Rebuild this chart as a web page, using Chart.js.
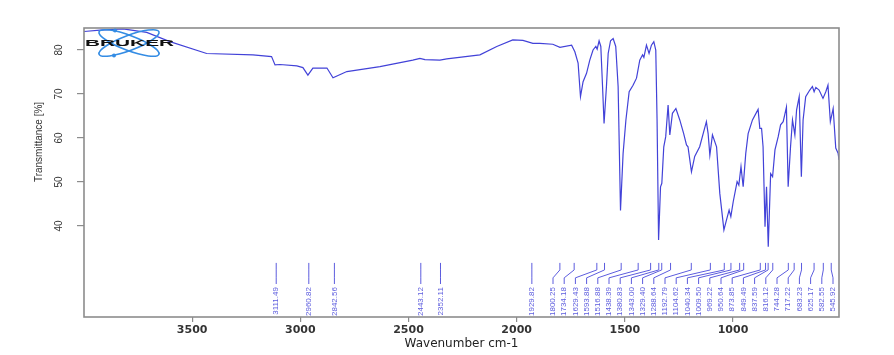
<!DOCTYPE html>
<html>
<head>
<meta charset="utf-8">
<script src="https://cdn.jsdelivr.net/npm/chart.js@4.4.1/dist/chart.umd.min.js"></script>
<style>
  html, body { margin: 0; padding: 0; background: #fff; }
  #wrap { width: 894px; height: 355px; }
</style>
</head>
<body>
<div id="wrap"><canvas id="ir" width="894" height="355"></canvas></div>
<script>
// spectrum (wavenumber cm-1 / transmittance %)
const wavenumbers = [4000, 3926, 3820, 3710, 3603, 3433, 3219, 3133, 3117, 3094,
  3016, 2988, 2965, 2942, 2877, 2849, 2785, 2632, 2480, 2447,
  2424, 2355, 2323, 2170, 2092, 2018, 1971, 1925, 1893, 1833,
  1800, 1746, 1731, 1716, 1705, 1693, 1677, 1662, 1647, 1634,
  1628, 1619, 1611, 1603, 1596, 1585, 1577, 1566, 1554, 1542,
  1531, 1520, 1508, 1495, 1480, 1462, 1446, 1431, 1418, 1412,
  1400, 1388, 1377, 1366, 1357, 1351, 1344, 1335, 1329, 1320,
  1311, 1300, 1292, 1280, 1264, 1246, 1228, 1215, 1208, 1192,
  1177, 1154, 1123, 1115, 1107, 1095, 1076, 1061, 1042, 1030,
  1018, 1010, 999, 981, 973, 963, 953, 941, 930, 910,
  884, 876, 868, 861, 852, 845, 837, 826, 817, 806,
  791, 780, 768, 753, 745, 734, 725, 714, 706, 694,
  684, 676, 664, 645, 633, 625, 617, 602, 584, 571,
  561, 550, 537, 525, 514, 510];
const transmittance = [84.2, 84.5, 84.8, 84.0, 81.9, 79.2, 78.9, 78.5, 76.6, 76.7,
  76.4, 76.0, 74.3, 75.9, 75.9, 73.7, 75.1, 76.2, 77.7, 78.1,
  77.8, 77.7, 78.0, 78.9, 80.8, 82.3, 82.2, 81.5, 81.5, 81.3,
  80.6, 81.1, 79.6, 77.0, 69.4, 72.8, 74.7, 77.7, 80.0, 80.8,
  80.2, 82.1, 80.8, 71.7, 63.3, 71.7, 79.2, 82.1, 82.6, 80.8,
  71.7, 43.5, 56.5, 64.1, 70.5, 72.0, 73.6, 77.7, 78.9, 78.3,
  81.1, 79.2, 81.1, 81.9, 80.0, 64.1, 36.8, 48.9, 49.7, 58.0,
  60.3, 67.5, 60.7, 65.6, 66.7, 64.1, 61.0, 58.4, 58.0, 52.3,
  55.8, 58.0, 63.7, 61.0, 56.1, 60.7, 58.0, 47.4, 39.1, 41.4,
  43.6, 42.1, 45.5, 50.1, 49.3, 53.5, 48.9, 56.5, 61.0, 64.1,
  66.5, 62.2, 62.2, 58.0, 39.8, 48.9, 35.3, 51.9, 51.2, 57.3,
  60.3, 63.0, 63.7, 67.0, 48.9, 58.0, 64.1, 60.7, 66.4, 69.4,
  51.2, 64.1, 69.4, 70.9, 71.7, 70.5, 71.5, 70.9, 69.0, 70.5,
  72.0, 63.7, 66.7, 57.7, 56.5, 55.0];

// picked peaks
const peakLabels = ["3111.49", "2960.82", "2842.56", "2443.12", "2352.11", "1929.82",
  "1800.25", "1734.18", "1629.43", "1593.88", "1516.88", "1438.39", "1380.83",
  "1343.00", "1329.40", "1288.64", "1192.79", "1104.62", "1040.34", "1009.50",
  "969.22", "950.64", "873.85", "849.49", "837.59", "816.12", "744.28", "717.22",
  "683.23", "625.17", "582.55", "545.92"];

const xTicks = [3500, 3000, 2500, 2000, 1500, 1000];
const yTicks = [40, 50, 60, 70, 80];

const LINE_BLUE = "rgb(66, 66, 216)";
const LABEL_BLUE = "rgb(92, 92, 222)";
const NARROW = '"Liberation Sans Narrow", "Liberation Sans", Arial, sans-serif';

// spread crowded peak labels so they don't overlap
function spreadLabels(xs, gap, lo, hi) {
  let groups = xs.map((x) => ({ items: [x] }));
  const start = (g) => {
    const mean = g.items.reduce((a, b) => a + b, 0) / g.items.length;
    const span = (g.items.length - 1) * gap;
    return Math.min(Math.max(mean - span / 2, lo), hi - span);
  };
  let merged = true;
  while (merged) {
    merged = false;
    for (let i = 0; i < groups.length - 1; i++) {
      const a = groups[i], b = groups[i + 1];
      if (start(a) + a.items.length * gap > start(b)) {
        groups.splice(i, 2, { items: a.items.concat(b.items) });
        merged = true;
        break;
      }
    }
  }
  const out = [];
  groups.forEach((g) => {
    const s = start(g);
    g.items.forEach((_, i) => out.push(s + i * gap));
  });
  return out;
}

const overlayPlugin = {
  id: "overlay",
  afterDatasetsDraw(chart) {
    const { ctx, chartArea: a, scales: { x, y } } = chart;

    // peak markers
    const px = peakLabels.map((p) => x.getPixelForValue(Number(p)));
    const lx = spreadLabels(px, 11.2, a.left + 8, a.right - 6);
    const yTop = y.getPixelForValue(31.6);
    const yBend1 = y.getPixelForValue(30.0);
    const yBend2 = y.getPixelForValue(28.2);
    const yEnd = y.getPixelForValue(26.8);
    const yText = y.getPixelForValue(26.1);
    ctx.save();
    ctx.strokeStyle = LABEL_BLUE;
    ctx.lineWidth = 1;
    ctx.fillStyle = LABEL_BLUE;
    ctx.font = "8px " + NARROW;
    px.forEach((p, i) => {
      ctx.beginPath();
      ctx.moveTo(p, yTop);
      ctx.lineTo(p, yBend1);
      ctx.lineTo(lx[i], yBend2);
      ctx.lineTo(lx[i], yEnd);
      ctx.stroke();
      ctx.save();
      ctx.translate(lx[i], yText);
      ctx.rotate(-Math.PI / 2);
      ctx.textAlign = "right";
      ctx.textBaseline = "middle";
      ctx.fillText(peakLabels[i], 0, 0);
      ctx.restore();
    });
    ctx.restore();

    // frame
    ctx.save();
    ctx.strokeStyle = "#8c8c8c";
    ctx.lineWidth = 1.6;
    ctx.strokeRect(a.left, a.top, a.right - a.left, a.bottom - a.top);
    ctx.restore();

    // y tick labels, rotated like the original
    ctx.save();
    ctx.font = "10px " + NARROW;
    ctx.fillStyle = "#333";
    ctx.textAlign = "center";
    ctx.textBaseline = "middle";
    y.ticks.forEach((t) => {
      ctx.save();
      ctx.translate(a.left - 25, y.getPixelForValue(t.value));
      ctx.rotate(-Math.PI / 2);
      ctx.fillText(String(t.value), 0, 0);
      ctx.restore();
    });
    ctx.restore();

    // y axis title (sits higher than the centre in the original)
    ctx.save();
    ctx.translate(39, 142);
    ctx.rotate(-Math.PI / 2);
    ctx.font = "10px " + NARROW;
    ctx.fillStyle = "#333";
    ctx.textAlign = "center";
    ctx.textBaseline = "middle";
    ctx.fillText("Transmittance [%]", 0, 0);
    ctx.restore();

    // Bruker logo
    const cx = a.left + 45, cy = a.top + 15;
    ctx.save();
    ctx.strokeStyle = "rgb(52, 140, 228)";
    ctx.fillStyle = "rgb(52, 140, 228)";
    ctx.lineWidth = 1.6;
    [0.36, -0.36].forEach((r) => {
      ctx.beginPath();
      ctx.ellipse(cx, cy, 32, 7.5, r, 0, Math.PI * 2);
      ctx.stroke();
    });
    [[-14, -12.5], [-15, 12.5]].forEach(([dx, dy]) => {
      ctx.beginPath();
      ctx.arc(cx + dx, cy + dy, 2, 0, Math.PI * 2);
      ctx.fill();
    });
    ctx.translate(a.left + 1, cy);
    ctx.scale(2.45, 1);
    ctx.font = "900 8.5px Arial, sans-serif";
    ctx.fillStyle = "#111";
    ctx.textBaseline = "middle";
    ctx.fillText("BRUKER", 0, 0.5);
    ctx.restore();
  }
};

new Chart(document.getElementById("ir"), {
  type: "line",
  data: {
    datasets: [{
      data: wavenumbers.map((w, i) => ({ x: w, y: transmittance[i] })),
      borderColor: LINE_BLUE,
      borderWidth: 1.2,
      pointRadius: 0,
      tension: 0,
      fill: false
    }]
  },
  options: {
    responsive: false,
    animation: false,
    devicePixelRatio: 1,
    layout: { padding: { top: 28, right: 55, left: 0, bottom: 0 } },
    plugins: { legend: { display: false }, tooltip: { enabled: false } },
    scales: {
      x: {
        type: "linear",
        reverse: true,
        min: 510,
        max: 4000,
        afterBuildTicks: (s) => { s.ticks = xTicks.map((v) => ({ value: v })); },
        afterFit: (s) => { s.height = 38; },
        border: { display: false },
        grid: { drawOnChartArea: false, drawTicks: true, tickLength: 5, color: "#8c8c8c", lineWidth: 1.2 },
        ticks: {
          padding: 2,
          maxRotation: 0,
          color: "#333",
          callback: (v) => String(v),
          font: { family: '"DejaVu Sans", sans-serif', size: 11, weight: "bold" }
        },
        title: {
          display: true,
          text: "Wavenumber cm-1",
          color: "#222",
          font: { family: '"DejaVu Sans", sans-serif', size: 12 },
          padding: { top: 0, bottom: 4 }
        }
      },
      y: {
        min: 19.3,
        max: 85,
        afterBuildTicks: (s) => { s.ticks = yTicks.map((v) => ({ value: v })); },
        afterFit: (s) => { s.width = 84; },
        border: { display: false },
        grid: { drawOnChartArea: false, drawTicks: true, tickLength: 7, color: "#8c8c8c", lineWidth: 1.2 },
        ticks: { display: false }
      }
    }
  },
  plugins: [overlayPlugin]
});
</script>
</body>
</html>
